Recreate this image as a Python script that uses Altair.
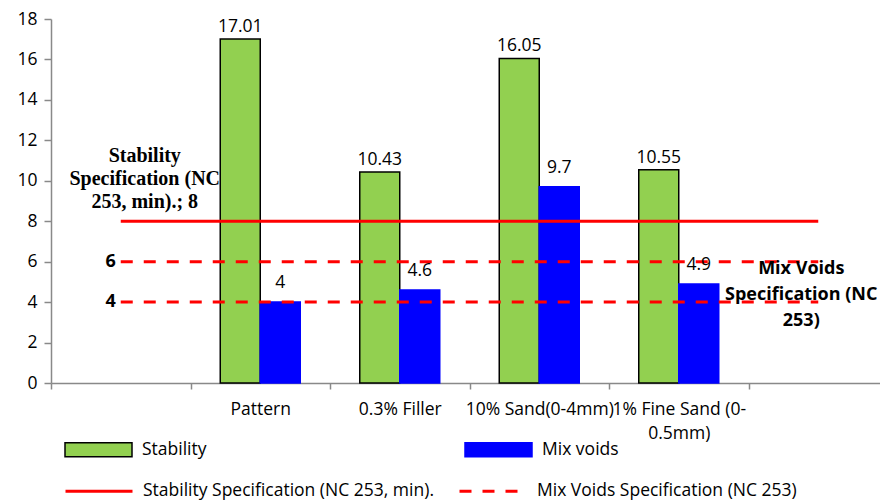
import altair as alt
import pandas as pd

# ---- data ----
categories = ["Pattern", "0.3% Filler", "10% Sand(0-4mm)", "1% Fine Sand (0-0.5mm)"]
stability = [17.01, 10.43, 16.05, 10.55]
mix_voids = [4, 4.6, 9.7, 4.9]
series_names = ["Stability", "Mix voids"]

spec_names = ["Stability Specification (NC 253, min).", "Mix Voids Specification (NC 253)"]
stability_spec = 8
voids_spec = [6, 4]

blank_left, blank_right = "b1", "b2"
x_domain = [blank_left] + categories + [blank_right]

rows = []
for c, s, v in zip(categories, stability, mix_voids):
    rows.append({"category": c, "series": series_names[0], "value": s})
    rows.append({"category": c, "series": series_names[1], "value": v})
bars_df = pd.DataFrame(rows)

spec_df = pd.DataFrame(
    [{"start": blank_left, "end": blank_right, "value": stability_spec, "name": spec_names[0]}]
    + [{"start": blank_left, "end": blank_right, "value": v, "name": spec_names[1]} for v in voids_spec]
)

stab_label_df = pd.DataFrame([{"pos": blank_left, "value": stability_spec,
                               "label": "Stability\nSpecification (NC\n253, min).; " + str(stability_spec)}])
voids_val_df = pd.DataFrame([{"pos": blank_left, "value": v, "label": str(v)} for v in voids_spec])
voids_name_df = pd.DataFrame([{"pos": blank_right, "value": min(voids_spec),
                               "label": "Mix Voids\nSpecification (NC\n253)"}])

FONT = "Open Sans"
FS = 17.5
GRAY = "#898989"

x_scale = alt.Scale(domain=x_domain, range=[0, 837], paddingInner=0, paddingOuter=0)
y_scale = alt.Scale(domain=[0, 18])

x_axis = alt.Axis(
    title=None, tickBand="extent", labelAngle=0, tickSize=6, labelPadding=11,
    labelFontSize=FS, labelFont=FONT, labelColor="black", labelOverlap=False,
    domainColor=GRAY, tickColor=GRAY, domainWidth=1.5, tickWidth=1.5,
    labelLineHeight=24, labelBaseline="top",
    labelExpr="datum.value == 'b1' || datum.value == 'b2' ? '' : "
              "datum.value == '1% Fine Sand (0-0.5mm)' ? ['1% Fine Sand (0-', '0.5mm)'] : datum.value",
)
y_axis = alt.Axis(
    title=None, values=list(range(0, 19, 2)), grid=False, tickSize=7, labelPadding=7,
    labelFontSize=FS, labelFont=FONT, labelColor="black",
    domainColor=GRAY, tickColor=GRAY, domainWidth=1.5, tickWidth=1.5,
)

bar_legend = alt.Legend(
    title=None, orient="none", legendX=13, legendY=396, columns=2, columnPadding=255,
    symbolType="M-1,-0.21H1V0.21H-1Z", symbolSize=67 * 67, symbolStrokeWidth=1.5,
    labelFont=FONT, labelFontSize=FS, labelColor="black", labelOffset=9, padding=0,
    labelLimit=400,
)

base_x = alt.X("category:N", scale=x_scale, axis=x_axis)
x_off = alt.XOffset("series:N", scale=alt.Scale(domain=series_names, paddingOuter=0.74375, paddingInner=0))
y_enc = alt.Y("value:Q", scale=y_scale, axis=y_axis)

bars = alt.Chart(bars_df).mark_bar(strokeWidth=1.5).encode(
    x=base_x,
    xOffset=x_off,
    y=y_enc,
    fill=alt.Fill("series:N", scale=alt.Scale(domain=series_names, range=["#92d050", "#0000ff"]), legend=bar_legend),
    stroke=alt.Stroke("series:N", scale=alt.Scale(domain=series_names, range=["#000000", "#0000ff"]), legend=bar_legend),
)

text_green = alt.Chart(bars_df).transform_filter(alt.datum.series == series_names[0]).mark_text(
    baseline="bottom", dy=-3, font=FONT, fontSize=FS, color="black"
).encode(x=base_x, xOffset=x_off, y=y_enc, text=alt.Text("value:Q", format=".4~g"))

text_blue = alt.Chart(bars_df).transform_filter(alt.datum.series == series_names[1]).mark_text(
    baseline="bottom", dy=-10, font=FONT, fontSize=FS, color="black"
).encode(x=base_x, xOffset=x_off, y=y_enc, text=alt.Text("value:Q", format=".4~g"))

line_legend = alt.Legend(
    title=None, orient="none", legendX=13, legendY=437, columns=2, columnPadding=19,
    symbolType="stroke", symbolSize=67 * 67, symbolStrokeWidth=3, symbolStrokeColor="#ff0000",
    labelFont=FONT, labelFontSize=FS, labelColor="black", labelOffset=9, padding=0,
    labelLimit=500,
)

rules = alt.Chart(spec_df).mark_rule(color="#ff0000", strokeWidth=3).encode(
    x=alt.X("start:N", scale=x_scale, axis=x_axis),
    x2="end:N",
    y=alt.Y("value:Q", scale=y_scale, axis=y_axis),
    strokeDash=alt.StrokeDash("name:N", scale=alt.Scale(domain=spec_names, range=[[1, 0], [12, 11]]),
                              legend=line_legend),
)

stab_label = alt.Chart(stab_label_df).mark_text(
    font="Liberation Serif", fontWeight="bold", fontSize=20, lineBreak="\n", lineHeight=23,
    align="center", baseline="middle", dx=24, dy=-65, color="black"
).encode(x=alt.X("pos:N", scale=x_scale, axis=x_axis), y=alt.Y("value:Q", scale=y_scale, axis=y_axis), text="label:N")

voids_vals = alt.Chart(voids_val_df).mark_text(
    font=FONT, fontWeight="bold", fontSize=18, align="right", baseline="middle", dx=-5, color="black"
).encode(x=alt.X("pos:N", scale=x_scale, axis=x_axis), y=alt.Y("value:Q", scale=y_scale, axis=y_axis), text="label:N")

voids_name = alt.Chart(voids_name_df).mark_text(
    font=FONT, fontWeight="bold", fontSize=18, lineBreak="\n", lineHeight=26,
    align="center", baseline="middle", dx=-17, dy=-33, color="black"
).encode(x=alt.X("pos:N", scale=x_scale, axis=x_axis), y=alt.Y("value:Q", scale=y_scale, axis=y_axis), text="label:N")

chart = alt.layer(
    bars, rules, text_green, text_blue, stab_label, voids_vals, voids_name
).resolve_scale(
    strokeDash="independent"
).properties(
    width=829, height=364,
    autosize=alt.AutoSizeParams(type="none"),
    padding={"left": 51, "top": 19, "right": 0, "bottom": 118},
).configure_view(stroke=None)

chart.save("out.html", embed_options={"renderer": "svg", "actions": False})
